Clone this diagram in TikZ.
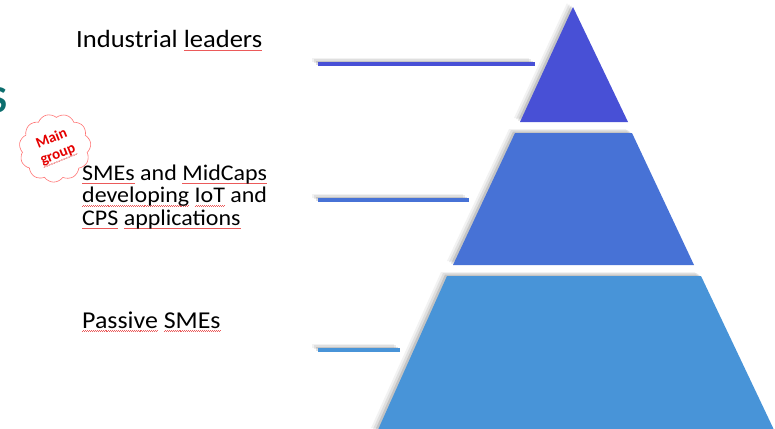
\documentclass[tikz,border=0pt]{standalone}
\usepackage{fontspec}
\setmainfont{Carlito}
\usetikzlibrary{shapes.symbols}
\definecolor{tierA}{RGB}{72,80,214}
\definecolor{tierB}{RGB}{71,114,214}
\definecolor{tierC}{RGB}{72,148,216}
\definecolor{teal}{RGB}{12,110,110}
\definecolor{squig}{RGB}{235,90,90}
\newcommand\sq[1]{\setbox0\hbox{#1}\rlap{\textcolor{squig}{\hbox to \wd0{\xleaders\hbox{\rule[-3.4pt]{0.9pt}{0.55pt}\rule[-2.8pt]{0.9pt}{0.55pt}}\hfil}}}\box0\relax}
\begin{document}
\begin{tikzpicture}[x=1pt,y=-1pt,
  label/.style={inner sep=0pt,align=left,xscale=1.07},
  tierline/.style={line width=4pt},
  shade/.style={fill=black,opacity=#1}]
\useasboundingbox (0,0) rectangle (775,428);
% soft shadows
\foreach \dx/\dy/\o in {-6/-4/0.05,-4/-3/0.08,-2/-1.5/0.12}{
  \fill[shade=\o,shift={(\dx,\dy)}] (573,7) -- (628,122) -- (520,122) -- cycle;
  \fill[shade=\o,shift={(\dx,\dy)}] (515,133) -- (632,133) -- (694,265) -- (453,265) -- cycle;
  \fill[shade=\o,shift={(\dx,\dy)}] (447,276) -- (701,276) -- (775,432) -- (377,432) -- cycle;
  \draw[draw=black,opacity=\o,line width=4pt,shift={(\dx,\dy)}] (318,64) -- (535,64);
  \draw[draw=black,opacity=\o,line width=4pt,shift={(\dx,\dy)}] (318,200) -- (469,200);
  \draw[draw=black,opacity=\o,line width=4pt,shift={(\dx,\dy)}] (318,350) -- (400,350);
}
% pyramid tiers
\fill[tierA] (573,7) -- (628,122) -- (520,122) -- cycle;
\fill[tierB] (515,133) -- (632,133) -- (694,265) -- (453,265) -- cycle;
\fill[tierC] (447,276) -- (701,276) -- (775,432) -- (377,432) -- cycle;
% leader lines
\coordinate (a1) at (318,64); \coordinate (a2) at (535,64);
\coordinate (b1) at (318,200); \coordinate (b2) at (469,200);
\coordinate (c1) at (318,350); \coordinate (c2) at (400,350);
\draw[tierline,tierA] (a1) -- (a2);
\draw[tierline,tierB] (b1) -- (b2);
\draw[tierline,tierC] (c1) -- (c2);
% labels
\node[label,anchor=base west,font=\fontsize{24.8}{26}\selectfont] (lead) at (76,47.5) {Industrial \sq{leaders}};
\node[label,anchor=west,font=\fontsize{22.4}{22.5}\selectfont] (sme) at (82,197) {\sq{SMEs} and \sq{MidCaps}\\\sq{developing} \sq{IoT} and\\\sq{CPS} \sq{applications}};
\node[label,anchor=base west,font=\fontsize{24.2}{26}\selectfont] (pass) at (82,328) {\sq{Passive} \sq{SMEs}};
% partial title letter
\node[anchor=east,inner sep=0pt,text=teal,font=\fontsize{38}{38}\selectfont\bfseries] (title) at (8,100) {S};
% cloud
\node[cloud,cloud puffs=11,cloud puff arc=110,aspect=1.05,draw=red!55,line width=0.6pt,fill=white,
  minimum width=72pt,minimum height=68pt,inner sep=0pt,rotate=15] (cloud) at (55,148) {};
\node[rotate=22,text=red!90!black,font=\fontsize{15}{16.5}\selectfont\bfseries,align=center,inner sep=0pt] (main) at (55,147) {Main\\\sq{group}};
\end{tikzpicture}
\end{document}
